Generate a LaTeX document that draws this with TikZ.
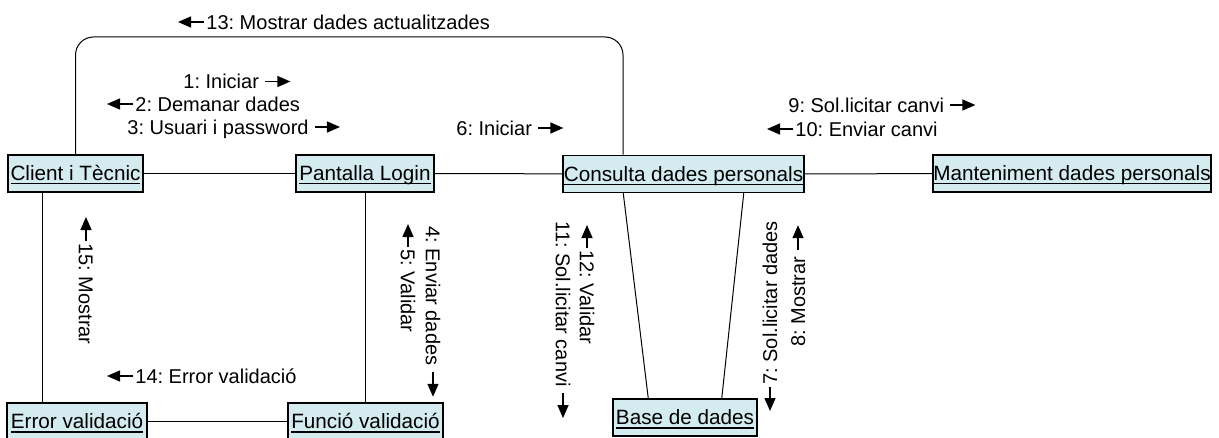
\documentclass[tikz,border=0pt]{standalone}
\usepackage{fontspec}
\setmainfont{Liberation Sans}
\usetikzlibrary{arrows.meta}
\definecolor{caixa}{RGB}{212,235,240}
\newcommand{\subrat}[1]{\setbox0=\hbox{#1}\rlap{\rule[-1.8pt]{\wd0}{0.6pt}}\box0}
\frenchspacing
\begin{document}
\begin{tikzpicture}[x=0.5pt,y=-0.5pt,
	obj/.style={draw, line width=0.75pt, fill=caixa, inner sep=0pt, minimum height=18.5pt, text height=7.4pt, text depth=0pt, font=\fontsize{10.35}{12}\selectfont},
	msg/.style={inner sep=0pt, text height=7.2pt, text depth=0pt, font=\fontsize{10}{12}\selectfont},
	fl/.style={line width=0.7pt, -{Triangle[length=6.5pt,width=5.5pt]}},
	lin/.style={line width=0.5pt}]
	\useasboundingbox (0,0) rectangle (1219,438);
	\path
	coordinate (bucle1) at (75.5,37)
	coordinate (bucle2) at (623,37)
	;
	\node[obj, minimum width=67.5pt] (cli) at (75.5,173.5) {\subrat{Client i Tècnic}};
	\node[obj, minimum width=69pt] (pan) at (365,173.5) {\subrat{Pantalla Login}};
	\node[obj, minimum width=120.5pt] (con) at (683.5,174) {\subrat{Consulta dades personals}};
	\node[obj, minimum width=139pt] (man) at (1072,173.5) {\subrat{Manteniment dades personals}};
	\node[obj, minimum width=70pt] (err) at (77,421.5) {\subrat{Error validació}};
	\node[obj, minimum width=77.5pt] (fun) at (365.5,421.5) {\subrat{Funció validació}};
	\node[obj, minimum width=72pt] (bd) at (685,417.5) {\subrat{Base de dades}};
	% enllacos
	\draw[lin] (cli) -- (pan);
	\draw[lin] (pan) -- (con);
	\draw[lin] (con) -- (man);
	\draw[lin] (err) -- (fun);
	\draw[lin] ([xshift=17.5pt]cli.south west) -- ([xshift=17.5pt]cli.south west |- err.north);
	\draw[lin] (pan.south) -- (pan.south |- fun.north);
	\draw[lin] ([xshift=30.5pt]con.south west) -- ([xshift=18pt]bd.north west);
	\draw[lin] ([xshift=-30.5pt]con.south east) -- ([xshift=-18pt]bd.north east);
	\draw[lin, rounded corners=9pt] (cli.north) -- (bucle1) -- (bucle2) -- (bucle2 |- con.north);
	% missatges
	\node[msg, anchor=west] (m13) at (206,22) {13: Mostrar dades actualitzades};
	\draw[fl] (m13.west) ++(-2,0) -- ++(-26,0);
	\node[msg, anchor=west] (m1) at (183,81.5) {1: Iniciar};
	\draw[fl] (m1.east) ++(6,0) -- ++(25,0);
	\node[msg, anchor=west] (m2) at (135,104) {2: Demanar dades};
	\draw[fl] (m2.west) ++(-2,0) -- ++(-26,0);
	\node[msg, anchor=west] (m3) at (127,127) {3: Usuari i password};
	\draw[fl] (m3.east) ++(6,0) -- ++(25,0);
	\node[msg, anchor=west] (m6) at (456,128) {6: Iniciar};
	\draw[fl] (m6.east) ++(6,0) -- ++(25,0);
	\node[msg, anchor=west] (m9) at (788,105) {9: Sol.licitar canvi};
	\draw[fl] (m9.east) ++(6,0) -- ++(25,0);
	\node[msg, anchor=west] (m10) at (795,129) {10: Enviar canvi};
	\draw[fl] (m10.west) ++(-2,0) -- ++(-26,0);
	\node[msg, anchor=west] (m14) at (135,376) {14: Error validació};
	\draw[fl] (m14.west) ++(-2,0) -- ++(-26,0);
	\node[msg, anchor=west, rotate=-90] (m15) at (86,243) {15: Mostrar};
	\draw[fl] (m15.west) ++(0,-2) -- ++(0,-24);
	\node[msg, anchor=west, rotate=-90] (m4) at (433,226) {4: Enviar dades};
	\draw[fl] (m4.east) ++(0,6) -- ++(0,25);
	\node[msg, anchor=west, rotate=-90] (m5) at (408,249) {5: Validar};
	\draw[fl] (m5.west) ++(0,-2) -- ++(0,-23);
	\node[msg, anchor=west, rotate=-90] (m12) at (587,250) {12: Validar};
	\draw[fl] (m12.west) ++(0,-2) -- ++(0,-23);
	\node[msg, anchor=west, rotate=-90] (m11) at (563,221) {11: Sol.licitar canvi};
	\draw[fl] (m11.east) ++(0,6) -- ++(0,25);
	\node[msg, anchor=west, rotate=90] (m7) at (770,385) {7: Sol.licitar dades};
	\draw[fl] (m7.west) ++(0,2) -- ++(0,24);
	\node[msg, anchor=west, rotate=90] (m8) at (798,347) {8: Mostrar};
	\draw[fl] (m8.east) ++(0,-6) -- ++(0,-25);
\end{tikzpicture}
\end{document}
